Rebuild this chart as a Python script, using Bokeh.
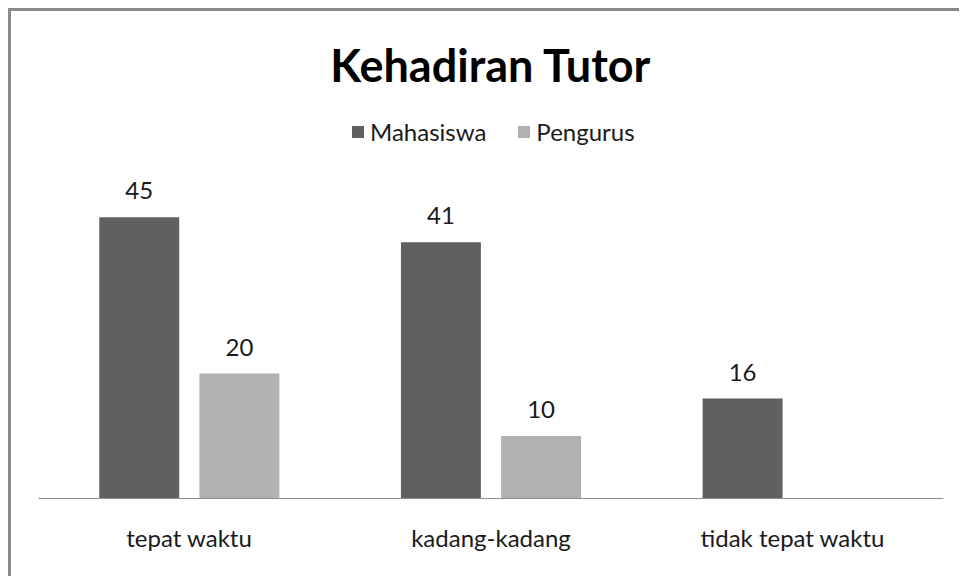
from bokeh.plotting import figure
from bokeh.models import (ColumnDataSource, FactorRange, Range1d, LabelSet, Label,
                          Legend, LegendItem)
from bokeh.transform import dodge
from bokeh.core.properties import value
from bokeh.embed import file_html
from bokeh.resources import INLINE

# ---- data ----
categories = ["tepat waktu", "kadang-kadang", "tidak tepat waktu"]
mahasiswa = [45, 41, 16]
pengurus = [20, 10, None]
series_names = ["Mahasiswa", "Pengurus"]
title_text = "Kehadiran Tutor"

# ---- style / layout constants ----
FONT = "Lato"
DARK = "#606060"
LIGHT = "#b2b2b2"
W, H = 951, 568
LEFT, RIGHT, TOP, BOTTOM = 27, 19, 5, 81
PX_PER_UNIT = 6.25
frame_h = H - TOP - BOTTOM
y_end = frame_h / PX_PER_UNIT

def fmt(v):
    return "" if v is None else str(v)

def num(v):
    return float("nan") if v is None else v

src = ColumnDataSource(data=dict(
    cat=categories,
    mah=[num(v) for v in mahasiswa],
    pen=[num(v) for v in pengurus],
    mah_t=[fmt(v) for v in mahasiswa],
    pen_t=[fmt(v) for v in pengurus],
))

p = figure(x_range=FactorRange(*categories, range_padding=0),
           y_range=Range1d(0, y_end),
           width=W, height=H, output_backend="svg", toolbar_location=None,
           y_axis_location=None,
           min_border_left=LEFT, min_border_right=RIGHT,
           min_border_top=TOP, min_border_bottom=BOTTOM,
           outline_line_color=None, background_fill_color="white",
           border_fill_color="white")
p.styles = {"border-top": "3px solid #8a8a8a", "border-left": "3px solid #8a8a8a",
            "margin-top": "8px", "margin-left": "8px"}

OFF = 0.166
BW = 0.265
r1 = p.vbar(x=dodge("cat", -OFF, range=p.x_range), top="mah", width=BW, source=src,
            fill_color=DARK, line_color=None)
r2 = p.vbar(x=dodge("cat", OFF, range=p.x_range), top="pen", width=BW, source=src,
            fill_color=LIGHT, line_color=None)

for col, off in (("mah", -OFF), ("pen", OFF)):
    p.add_layout(LabelSet(x=dodge("cat", off, range=p.x_range), y=col, text=col + "_t",
                          source=src, text_align="center", text_baseline="alphabetic",
                          y_offset=18, text_font=value(FONT), text_font_size="24px",
                          text_color="#1a1a1a"))

p.xgrid.visible = False
p.ygrid.visible = False
ax = p.xaxis[0]
ax.axis_line_color = "#8c8c8c"
ax.axis_line_width = 1
ax.major_tick_line_color = None
ax.minor_tick_line_color = None
ax.major_tick_out = 0
ax.major_tick_in = 0
ax.major_label_standoff = 24
ax.major_label_text_font = FONT
ax.major_label_text_font_size = "24px"
ax.major_label_text_color = "#1a1a1a"

# title inside frame
title_y = (H - BOTTOM - 53) / PX_PER_UNIT
p.add_layout(Label(x=1.5, y=title_y, text=title_text, text_align="center",
                   text_baseline="alphabetic", text_font=FONT, text_font_style="bold",
                   text_font_size="45px", text_color="#000000"))

legend = Legend(items=[LegendItem(label=series_names[0], renderers=[r1]),
                       LegendItem(label=series_names[1], renderers=[r2])],
                orientation="horizontal", location=(312, 352),
                padding=0, margin=0, spacing=30, label_standoff=5,
                glyph_width=15, glyph_height=15,
                label_text_font=FONT, label_text_font_size="24px",
                label_text_color="#1a1a1a", border_line_color=None,
                background_fill_alpha=0)
p.add_layout(legend, "center")

open("out.html", "w").write(file_html(p, INLINE))
